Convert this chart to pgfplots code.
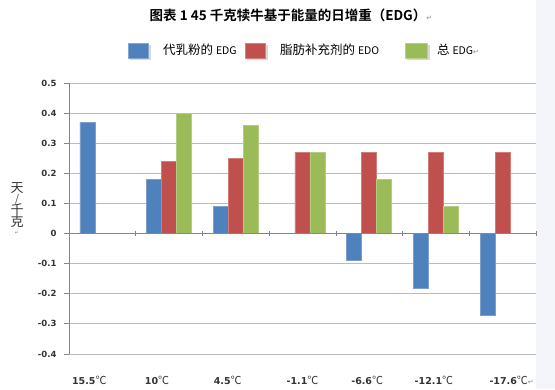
\documentclass[border=0pt]{standalone}
\usepackage{fontspec}
\usepackage{pgfplots}
\pgfplotsset{compat=1.18}
\setmainfont{DejaVu Sans}
\newfontfamily\cjk{Noto Sans CJK SC}[BoldFont={Noto Sans CJK SC Bold}]
\newfontfamily\dejavu{DejaVu Sans}
\definecolor{cblue}{HTML}{4F81BD}
\definecolor{cred}{HTML}{C0504D}
\definecolor{cgreen}{HTML}{9BBB59}
\definecolor{gridc}{HTML}{BBBBBB}
\definecolor{axisgray}{HTML}{868686}
\definecolor{txt}{HTML}{333333}
\definecolor{pagebg}{HTML}{F4F5FA}
\newcommand{\parmark}{{\dejavu\mdseries\color{black!45}\fontsize{7}{7}\selectfont ↵}}
\newcommand{\degc}{{\cjk\mdseries\fontsize{11}{12}\selectfont ℃}}
\begin{document}
\begin{tikzpicture}[x=1pt,y=1pt]
\path[use as bounding box, fill=white] (0,0) rectangle (555,389);
\fill[pagebg] (536,0) rectangle (555,389);
% title
\node[anchor=center, font=\cjk\bfseries\fontsize{13.5}{15}\selectfont] at (291,374) {图表 1 45 千克犊牛基于能量的日增重（EDG）\parmark};
% legend
\begin{scope}[font=\cjk\fontsize{12.5}{14}\selectfont]
\fill[black!15] (130,329) rectangle (151,344);
\fill[cblue, draw=cblue!70!white] (128,331) rectangle (148,346);
\node[anchor=west, inner sep=0] at (163,339) {代乳粉的 {\fontsize{10.5}{12}\selectfont EDG}};
\fill[black!15] (247,329) rectangle (268,344);
\fill[cred, draw=cred!70!white] (245,331) rectangle (265,346);
\node[anchor=west, inner sep=0] at (280,339) {脂肪补充剂的 {\fontsize{10.5}{12}\selectfont EDO}};
\fill[black!15] (407,329) rectangle (430,344);
\fill[cgreen, draw=cgreen!70!white] (405,331) rectangle (427,346);
\node[anchor=west, inner sep=0] at (437,339) {总 {\fontsize{10.5}{12}\selectfont EDG}\parmark};
\end{scope}
% y label
\node[text=txt, font=\cjk\fontsize{13}{13}\selectfont, align=center, inner sep=0] at (17,180) {天\\[-3pt]{\fontsize{10}{10}\selectfont /}\\[-1pt]千\\[-1pt]克\\[-5pt]{\fontsize{5}{5}\selectfont\dejavu\color{black!45}↵}};
\begin{axis}[
  at={(69pt,35pt)}, anchor=south west, scale only axis,
  width=467pt, height=271pt,
  xmin=-0.5, xmax=6.5, ymin=-0.4, ymax=0.5,
  axis x line*=bottom, axis y line*=left,
  x axis line style={draw=gridc, line width=0.9pt, -},
  y axis line style={draw=axisgray, line width=0.8pt, -},
  ymajorgrids, grid style={gridc, line width=0.9pt},
  ytick={-0.4,-0.3,-0.2,-0.1,0,0.1,0.2,0.3,0.4,0.5},
  yticklabels={-0.4,-0.3,-0.2,-0.1,0,0.1,0.2,0.3,0.4,0.5},
  xtick={0,1,2,3,4,5,6},
  xticklabels={\kern-26pt 15.5\degc,\kern-24pt 10\degc,\kern-16pt 4.5\degc,-1.1\degc,\kern-4pt -6.6\degc,\kern-4pt -12.1\degc,\kern18pt -17.6\degc\parmark},
  x tick style={draw=none},
  y tick style={draw=axisgray, line width=0.8pt},
  tick align=outside, major tick length=5pt,
  yticklabel style={font=\dejavu\bfseries\fontsize{8.5}{10}\selectfont, text=txt, xshift=-4pt},
  xticklabel style={font=\dejavu\bfseries\fontsize{9.5}{11}\selectfont, text=txt, anchor=base, yshift=-25pt},
  ybar=0pt, bar width=15pt,
  clip=false,
]
\addplot[fill=cblue, draw=cblue!75!white, line width=0.5pt] coordinates {(0,0.37) (1,0.18) (2,0.09) (4,-0.09) (5,-0.18) (6,-0.27)};
\addplot[fill=cred, draw=cred!75!white, line width=0.5pt] coordinates {(1,0.24) (2,0.25) (3,0.27) (4,0.27) (5,0.27) (6,0.27)};
\addplot[fill=cgreen, draw=cgreen!75!white, line width=0.5pt] coordinates {(1,0.40) (2,0.36) (3,0.27) (4,0.18) (5,0.09)};
\draw[axisgray, line width=0.8pt] (axis cs:-0.5,0) -- (axis cs:6.5,0);
\pgfplotsinvokeforeach{0.5,1.5,2.5,3.5,4.5,5.5,6.5}{\draw[axisgray, line width=0.6pt] ([yshift=-2.5pt]axis cs:#1,0) -- ([yshift=2.5pt]axis cs:#1,0);}
\end{axis}
\end{tikzpicture}
\end{document}
